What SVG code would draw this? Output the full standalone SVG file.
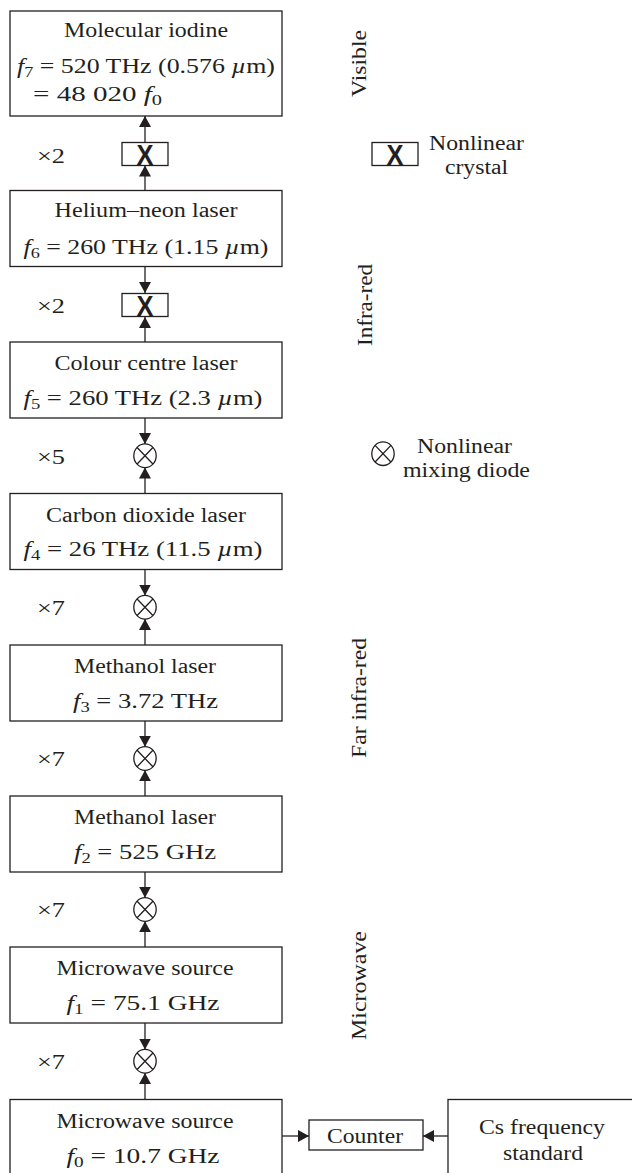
<svg xmlns="http://www.w3.org/2000/svg" width="632" height="1173" viewBox="0 0 632 1173">
<style>
.box{fill:#fff;stroke:#231f20;stroke-width:1.3}
.t{font-family:"Liberation Serif","Times New Roman",serif;font-size:20px;fill:#231f20}
.m{text-anchor:middle}
.i{font-style:italic}
.s{font-size:14px}
.ln{stroke:#231f20;stroke-width:1.3;fill:none}
.mx{fill:#fff;stroke:#231f20;stroke-width:1.3}
.xg{font-family:"Liberation Sans",Arial,sans-serif;font-weight:bold;font-size:30px;fill:#231f20;text-anchor:middle}
</style>
<defs>
<marker id="ah" markerUnits="userSpaceOnUse" markerWidth="11" markerHeight="12" refX="11" refY="6" orient="auto">
<path d="M0,0 L11,6 L0,12 z" fill="#231f20"/>
</marker>
<g id="mixsym">
<ellipse class="mx" cx="0" cy="0" rx="11.2" ry="11.8"/>
<path class="ln" d="M-7.9,-8.3 L7.9,8.3 M7.9,-8.3 L-7.9,8.3"/>
</g>
</defs>

<g id="connectors">
<line class="ln" x1="145" y1="142.5" x2="145" y2="116" marker-end="url(#ah)"/>
<line class="ln" x1="145" y1="190.5" x2="145" y2="165.5" marker-end="url(#ah)"/>
<line class="ln" x1="145" y1="266.5" x2="145" y2="293" marker-end="url(#ah)"/>
<line class="ln" x1="145" y1="342" x2="145" y2="317" marker-end="url(#ah)"/>
<line class="ln" x1="145" y1="418" x2="145" y2="444" marker-end="url(#ah)"/>
<line class="ln" x1="145" y1="493.5" x2="145" y2="467.5" marker-end="url(#ah)"/>
<line class="ln" x1="145" y1="569.5" x2="145" y2="595.5" marker-end="url(#ah)"/>
<line class="ln" x1="145" y1="645" x2="145" y2="619" marker-end="url(#ah)"/>
<line class="ln" x1="145" y1="721" x2="145" y2="746.7" marker-end="url(#ah)"/>
<line class="ln" x1="145" y1="796" x2="145" y2="770.3" marker-end="url(#ah)"/>
<line class="ln" x1="145" y1="872" x2="145" y2="897.7" marker-end="url(#ah)"/>
<line class="ln" x1="145" y1="947" x2="145" y2="921.3" marker-end="url(#ah)"/>
<line class="ln" x1="145" y1="1023" x2="145" y2="1049.5" marker-end="url(#ah)"/>
<line class="ln" x1="145" y1="1099.5" x2="145" y2="1073" marker-end="url(#ah)"/>
<line class="ln" x1="282" y1="1136" x2="309" y2="1136" marker-end="url(#ah)"/>
<line class="ln" x1="448" y1="1136" x2="423" y2="1136" marker-end="url(#ah)"/>
</g>

<g id="n-iodine">
<rect class="box" x="10" y="11" width="272" height="105"/>
<text class="t m" x="146" y="37" textLength="164" lengthAdjust="spacingAndGlyphs">Molecular iodine</text>
<text class="t m" x="146" y="73" textLength="258" lengthAdjust="spacingAndGlyphs"><tspan class="i">f</tspan><tspan class="s" dy="4">7</tspan><tspan dy="-4"> = 520 THz (0.576 </tspan><tspan class="i">µ</tspan><tspan>m)</tspan></text>
<text class="t" x="33" y="101" textLength="129" lengthAdjust="spacingAndGlyphs">= 48 020 <tspan class="i">f</tspan><tspan class="s" dy="4">0</tspan></text>
</g>

<g id="crystal1">
<rect class="box" x="122" y="142.5" width="46" height="23"/>
<text class="xg" x="145" y="165" textLength="17" lengthAdjust="spacingAndGlyphs">X</text>
<text class="t" x="37" y="162.5" textLength="28" lengthAdjust="spacingAndGlyphs">×2</text>
</g>

<g id="n-hene">
<rect class="box" x="10" y="190.5" width="272" height="76"/>
<text class="t m" x="146" y="217" textLength="183" lengthAdjust="spacingAndGlyphs">Helium–neon laser</text>
<text class="t m" x="146" y="254" textLength="245" lengthAdjust="spacingAndGlyphs"><tspan class="i">f</tspan><tspan class="s" dy="4">6</tspan><tspan dy="-4"> = 260 THz (1.15 </tspan><tspan class="i">µ</tspan><tspan>m)</tspan></text>
</g>

<g id="crystal2">
<rect class="box" x="122" y="293.5" width="46" height="23"/>
<text class="xg" x="145" y="316" textLength="17" lengthAdjust="spacingAndGlyphs">X</text>
<text class="t" x="37" y="312.5" textLength="28" lengthAdjust="spacingAndGlyphs">×2</text>
</g>

<g id="n-colour">
<rect class="box" x="10" y="342" width="272" height="76"/>
<text class="t m" x="146" y="370" textLength="183" lengthAdjust="spacingAndGlyphs">Colour centre laser</text>
<text class="t m" x="143" y="405" textLength="239" lengthAdjust="spacingAndGlyphs"><tspan class="i">f</tspan><tspan class="s" dy="4">5</tspan><tspan dy="-4"> = 260 THz (2.3 </tspan><tspan class="i">µ</tspan><tspan>m)</tspan></text>
</g>

<g id="mixer1">
<use href="#mixsym" x="145" y="455.75"/>
<text class="t" x="37" y="463.5" textLength="28" lengthAdjust="spacingAndGlyphs">×5</text>
</g>

<g id="n-co2">
<rect class="box" x="10" y="493.5" width="272" height="76"/>
<text class="t m" x="146" y="522" textLength="200" lengthAdjust="spacingAndGlyphs">Carbon dioxide laser</text>
<text class="t m" x="143" y="556" textLength="239" lengthAdjust="spacingAndGlyphs"><tspan class="i">f</tspan><tspan class="s" dy="4">4</tspan><tspan dy="-4"> = 26 THz (11.5 </tspan><tspan class="i">µ</tspan><tspan>m)</tspan></text>
</g>

<g id="mixer2">
<use href="#mixsym" x="145" y="607.25"/>
<text class="t" x="37" y="614.5" textLength="28" lengthAdjust="spacingAndGlyphs">×7</text>
</g>

<g id="n-meth1">
<rect class="box" x="10" y="645" width="272" height="76"/>
<text class="t m" x="145" y="673" textLength="142" lengthAdjust="spacingAndGlyphs">Methanol laser</text>
<text class="t m" x="145.5" y="708" textLength="145" lengthAdjust="spacingAndGlyphs"><tspan class="i">f</tspan><tspan class="s" dy="4">3</tspan><tspan dy="-4"> = 3.72 THz</tspan></text>
</g>

<g id="mixer3">
<use href="#mixsym" x="145" y="758.5"/>
<text class="t" x="37" y="766" textLength="28" lengthAdjust="spacingAndGlyphs">×7</text>
</g>

<g id="n-meth2">
<rect class="box" x="10" y="796" width="272" height="76"/>
<text class="t m" x="145" y="824" textLength="142" lengthAdjust="spacingAndGlyphs">Methanol laser</text>
<text class="t m" x="145" y="859" textLength="142" lengthAdjust="spacingAndGlyphs"><tspan class="i">f</tspan><tspan class="s" dy="4">2</tspan><tspan dy="-4"> = 525 GHz</tspan></text>
</g>

<g id="mixer4">
<use href="#mixsym" x="145" y="909.5"/>
<text class="t" x="37" y="917" textLength="28" lengthAdjust="spacingAndGlyphs">×7</text>
</g>

<g id="n-mw1">
<rect class="box" x="10" y="947" width="272" height="76"/>
<text class="t m" x="145" y="975" textLength="177" lengthAdjust="spacingAndGlyphs">Microwave source</text>
<text class="t m" x="143" y="1010" textLength="153" lengthAdjust="spacingAndGlyphs"><tspan class="i">f</tspan><tspan class="s" dy="4">1</tspan><tspan dy="-4"> = 75.1 GHz</tspan></text>
</g>

<g id="mixer5">
<use href="#mixsym" x="145" y="1061.25"/>
<text class="t" x="37" y="1068.5" textLength="28" lengthAdjust="spacingAndGlyphs">×7</text>
</g>

<g id="n-mw0">
<rect class="box" x="10" y="1099.5" width="272" height="100"/>
<text class="t m" x="145" y="1127.5" textLength="177" lengthAdjust="spacingAndGlyphs">Microwave source</text>
<text class="t m" x="143" y="1162.5" textLength="153" lengthAdjust="spacingAndGlyphs"><tspan class="i">f</tspan><tspan class="s" dy="4">0</tspan><tspan dy="-4"> = 10.7 GHz</tspan></text>
</g>

<g id="n-counter">
<rect class="box" x="309" y="1120" width="114" height="30"/>
<text class="t m" x="365" y="1143" textLength="76" lengthAdjust="spacingAndGlyphs">Counter</text>
</g>

<g id="n-cs">
<rect class="box" x="448" y="1099.5" width="200" height="100"/>
<text class="t m" x="542" y="1134" textLength="126" lengthAdjust="spacingAndGlyphs">Cs frequency</text>
<text class="t m" x="543" y="1160" textLength="80" lengthAdjust="spacingAndGlyphs">standard</text>
</g>

<g id="legend-crystal">
<rect class="box" x="372" y="142.5" width="46" height="23"/>
<text class="xg" x="395" y="165" textLength="17" lengthAdjust="spacingAndGlyphs">X</text>
<text class="t m" x="476.5" y="150" textLength="95" lengthAdjust="spacingAndGlyphs">Nonlinear</text>
<text class="t m" x="476.5" y="174" textLength="63" lengthAdjust="spacingAndGlyphs">crystal</text>
</g>

<g id="legend-mixer">
<use href="#mixsym" x="383" y="453.7"/>
<text class="t m" x="464.5" y="453" textLength="95" lengthAdjust="spacingAndGlyphs">Nonlinear</text>
<text class="t m" x="466.5" y="476.5" textLength="127" lengthAdjust="spacingAndGlyphs">mixing diode</text>
</g>

<g id="band-labels">
<text class="t m" transform="translate(366,63.5) rotate(-90)" textLength="67" lengthAdjust="spacingAndGlyphs">Visible</text>
<text class="t m" transform="translate(372,305) rotate(-90)" textLength="82" lengthAdjust="spacingAndGlyphs">Infra-red</text>
<text class="t m" transform="translate(366,698) rotate(-90)" textLength="120" lengthAdjust="spacingAndGlyphs">Far infra-red</text>
<text class="t m" transform="translate(366,985.5) rotate(-90)" textLength="109" lengthAdjust="spacingAndGlyphs">Microwave</text>
</g>
</svg>
